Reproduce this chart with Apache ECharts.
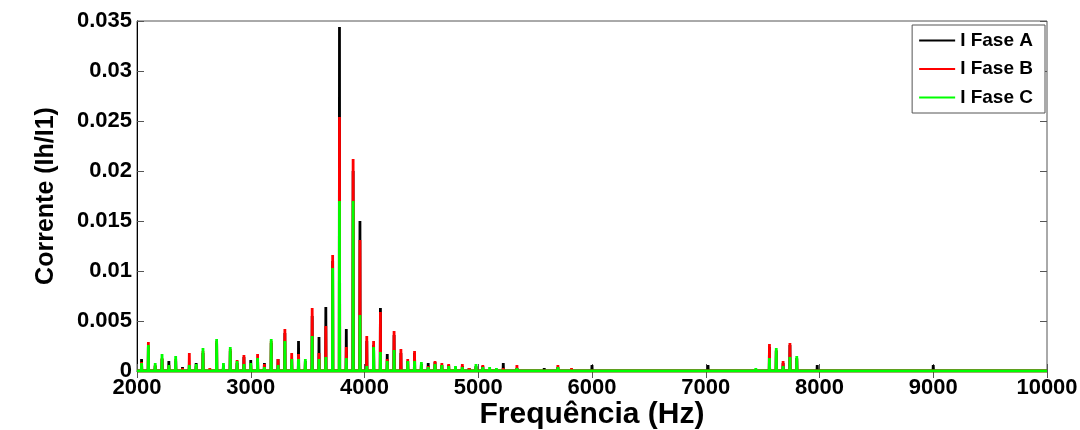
<!DOCTYPE html>
<html>
<head>
<meta charset="utf-8">
<title>Espectro harmônico de corrente</title>
<script src="https://cdn.jsdelivr.net/npm/echarts@6/dist/echarts.min.js"></script>
<style>
  html, body { margin: 0; padding: 0; background: #fff; }
  #chart { width: 1080px; height: 430px; }
</style>
</head>
<body>
<div id="chart"></div>
<script>
// Harmonic frequencies (Hz) with a visible spectral line, multiples of 60 Hz
const freqs = [
  2040, 2100, 2160, 2220, 2280, 2340, 2400, 2460, 2520, 2580,
  2640, 2700, 2760, 2820, 2880, 2940, 3000, 3060, 3120, 3180,
  3240, 3300, 3360, 3420, 3480, 3540, 3600, 3660, 3720, 3780,
  3840, 3900, 3960, 4020, 4080, 4140, 4200, 4260, 4320, 4380,
  4440, 4500, 4560, 4620, 4680, 4740, 4800, 4860, 4920, 4980,
  5040, 5100, 5160, 5220, 5340, 5460, 5580, 5700, 5820, 6000,
  7020, 7440, 7560, 7620, 7680, 7740, 7800, 7920, 7980, 9000
];

// Current harmonic amplitude Ih/I1, phase A
const faseA = [
  0.0012, 0.0025, 0.0005, 0.0012, 0.0010, 0.0010, 0.0004, 0.0006, 0.0008, 0.0018,
  0.0002, 0.0028, 0.0005, 0.0020, 0.0008, 0.0014, 0.0011, 0.0012, 0.0008, 0.0028,
  0.0012, 0.0038, 0.0012, 0.0030, 0.0010, 0.0055, 0.0034, 0.0064, 0.0110, 0.0344,
  0.0042, 0.0200, 0.0150, 0.0030, 0.0026, 0.0063, 0.0017, 0.0036, 0.0018, 0.0010,
  0.0018, 0.0007, 0.0008, 0.0009, 0.0006, 0.0006, 0.0004, 0.0005, 0.0003, 0.0005,
  0.0005, 0.0002, 0.0002, 0.0008, 0.0003, 0.0002, 0.0003, 0.0004, 0.0002, 0.0006,
  0.0006, 0.0002, 0.0024, 0.0020, 0.0008, 0.0026, 0.0013, 0.0001, 0.0006, 0.0006
];

// Phase B
const faseB = [
  0.0009, 0.0029, 0.0006, 0.0013, 0.0006, 0.0012, 0.0003, 0.0018, 0.0005, 0.0020,
  0.0003, 0.0030, 0.0006, 0.0022, 0.0011, 0.0016, 0.0006, 0.0017, 0.0007, 0.0030,
  0.0012, 0.0042, 0.0018, 0.0017, 0.0009, 0.0063, 0.0018, 0.0045, 0.0116, 0.0254,
  0.0024, 0.0212, 0.0131, 0.0035, 0.0030, 0.0059, 0.0012, 0.0040, 0.0022, 0.0012,
  0.0020, 0.0006, 0.0005, 0.0010, 0.0008, 0.0007, 0.0004, 0.0007, 0.0003, 0.0004,
  0.0006, 0.0002, 0.0002, 0.0003, 0.0006, 0.0002, 0.0002, 0.0006, 0.0003, 0.0002,
  0.0001, 0.0002, 0.0027, 0.0021, 0.0010, 0.0028, 0.0012, 0.0002, 0.0002, 0.0001
];

// Phase C
const faseC = [
  0.0008, 0.0026, 0.0008, 0.0017, 0.0006, 0.0015, 0.0002, 0.0006, 0.0007, 0.0023,
  0.0002, 0.0032, 0.0008, 0.0024, 0.0010, 0.0007, 0.0008, 0.0013, 0.0004, 0.0032,
  0.0006, 0.0030, 0.0012, 0.0012, 0.0012, 0.0035, 0.0012, 0.0014, 0.0103, 0.0170,
  0.0013, 0.0170, 0.0056, 0.0005, 0.0024, 0.0019, 0.0010, 0.0021, 0.0002, 0.0010,
  0.0010, 0.0009, 0.0004, 0.0007, 0.0006, 0.0005, 0.0005, 0.0004, 0.0002, 0.0007,
  0.0004, 0.0004, 0.0003, 0.0002, 0.0003, 0.0002, 0.0002, 0.0004, 0.0002, 0.0002,
  0.0001, 0.0003, 0.0013, 0.0023, 0.0005, 0.0014, 0.0015, 0.0001, 0.0002, 0.0001
];

const xTicks = [2000, 3000, 4000, 5000, 6000, 7000, 8000, 9000, 10000];
const yTicks = [0, 0.005, 0.01, 0.015, 0.02, 0.025, 0.03, 0.035];

const X_MIN = xTicks[0], X_MAX = xTicks[xTicks.length - 1];
const Y_MIN = yTicks[0], Y_MAX = yTicks[yTicks.length - 1];
const FONT = "'Liberation Sans', Arial, sans-serif";

// Each harmonic is drawn as a narrow spectral line rising from the zero floor
const HALF_WIDTH = 2; // Hz
function spectrum(values) {
  const pts = [[X_MIN, 0]];
  freqs.forEach((f, i) => {
    pts.push([f - HALF_WIDTH, 0], [f, values[i]], [f + HALF_WIDTH, 0]);
  });
  pts.push([X_MAX, 0]);
  return pts;
}

function lineSeries(name, color, values) {
  return {
    name: name,
    type: 'line',
    data: spectrum(values),
    symbol: 'none',
    animation: false,
    lineStyle: { color: color, width: 2.8, join: 'bevel', cap: 'butt' },
    itemStyle: { color: color }
  };
}

const tickStyle = { show: true, inside: true, length: 7, lineStyle: { color: '#555', width: 1 } };

const chart = echarts.init(document.getElementById('chart'), null, { renderer: 'canvas' });
chart.setOption({
  backgroundColor: '#ffffff',
  animation: false,
  grid: {
    left: 137, right: 33, top: 21, bottom: 59,
    outerBoundsMode: 'none',
    show: true, borderColor: '#555', borderWidth: 1, backgroundColor: 'transparent'
  },
  legend: {
    orient: 'vertical',
    right: 35, top: 25,
    data: ['I Fase A', 'I Fase B', 'I Fase C'],
    icon: 'rect',
    itemWidth: 36, itemHeight: 2, itemGap: 9.5, itemTextGap: 3,
    padding: [6, 12, 6, 7],
    borderColor: '#555', borderWidth: 1, backgroundColor: '#fff',
    textStyle: { fontFamily: FONT, fontWeight: 'bold', fontSize: 19, color: '#000' }
  },
  xAxis: [{
    type: 'value', min: X_MIN, max: X_MAX, interval: 1000,
    name: 'Frequência (Hz)', nameLocation: 'middle', nameGap: 29, nameMoveOverlap: false,
    nameTextStyle: { fontFamily: FONT, fontWeight: 'bold', fontSize: 30, color: '#000' },
    axisLine: { show: true, onZero: false, lineStyle: { color: '#000', width: 1 } },
    axisTick: tickStyle,
    splitLine: { show: false },
    axisLabel: {
      fontFamily: FONT, fontWeight: 'bold', fontSize: 22, color: '#000', margin: 6,
      formatter: v => String(v)
    }
  }, {
    type: 'value', min: X_MIN, max: X_MAX, interval: 1000, position: 'top',
    axisLine: { show: false }, axisTick: tickStyle,
    axisLabel: { show: false }, splitLine: { show: false }
  }],
  yAxis: [{
    type: 'value', min: Y_MIN, max: Y_MAX, interval: 0.005,
    name: 'Corrente (Ih/I1)', nameLocation: 'middle', nameGap: 78, nameRotate: 90, nameMoveOverlap: false,
    nameTextStyle: { fontFamily: FONT, fontWeight: 'bold', fontSize: 25, color: '#000' },
    axisLine: { show: true, lineStyle: { color: '#000', width: 1 } },
    axisTick: tickStyle,
    splitLine: { show: false },
    axisLabel: {
      fontFamily: FONT, fontWeight: 'bold', fontSize: 22, color: '#000', margin: 5,
      formatter: v => String(+v.toFixed(3))
    }
  }, {
    type: 'value', min: Y_MIN, max: Y_MAX, interval: 0.005, position: 'right',
    axisLine: { show: false }, axisTick: tickStyle,
    axisLabel: { show: false }, splitLine: { show: false }
  }],
  series: [
    lineSeries('I Fase A', '#000000', faseA),
    lineSeries('I Fase B', '#ff0000', faseB),
    lineSeries('I Fase C', '#00ff00', faseC)
  ]
});
</script>
</body>
</html>
